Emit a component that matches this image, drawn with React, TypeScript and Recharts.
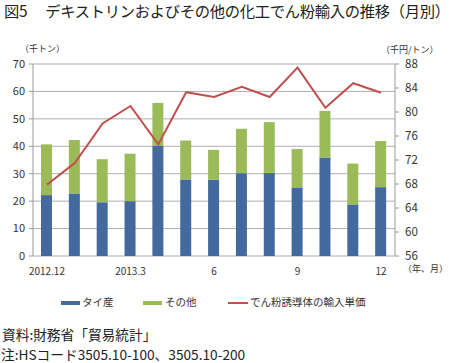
import React from "react";
import {
  ComposedChart,
  Bar,
  Line,
  XAxis,
  YAxis,
  CartesianGrid,
} from "recharts";

const months = [
  "2012.12", "2013.1", "2013.2", "2013.3", "2013.4", "2013.5", "2013.6",
  "2013.7", "2013.8", "2013.9", "2013.10", "2013.11", "2013.12",
];
const tickLabels: Record<string, string> = {
  "2012.12": "2012.12",
  "2013.3": "2013.3",
  "2013.6": "6",
  "2013.9": "9",
  "2013.12": "12",
};
// 千トン
const thai = [22.2, 22.8, 19.6, 20.0, 40.1, 27.9, 27.8, 30.2, 30.3, 24.8, 35.9, 18.8, 25.1];
const other = [18.5, 19.5, 15.7, 17.3, 15.7, 14.2, 10.9, 16.2, 18.5, 14.2, 17.0, 14.9, 16.8];
// 千円/トン
const unitPrice = [67.9, 71.5, 78.1, 81.0, 74.6, 83.3, 82.5, 84.2, 82.5, 87.4, 80.7, 84.8, 83.2];

const leftTicks = [0, 10, 20, 30, 40, 50, 60, 70];
const rightTicks = [56, 60, 64, 68, 72, 76, 80, 84, 88];
const boundaryTicks = months.map((_, i) => i).concat(months.length);

const COLORS = {
  thai: "#44699e",
  other: "#9bbb59",
  price: "#c0504d",
  grid: "#9a9a9a",
  text: "#333333",
};

const FONT = '"Noto Sans CJK JP", "Liberation Sans", sans-serif';

const data = months.map((m, i) => ({
  month: m,
  thai: thai[i],
  other: other[i],
  price: unitPrice[i],
}));

export default function App() {
  const tickStyle = { fontSize: 11, fill: COLORS.text, fontFamily: FONT };
  const note = { position: "absolute" as const, fontSize: 9, lineHeight: 1, color: COLORS.text, whiteSpace: "nowrap" as const };
  return (
    <div
      style={{
        position: "fixed",
        left: 0,
        top: 0,
        width: 450,
        height: 363,
        background: "#fff",
        fontFamily: FONT,
        color: "#222",
        overflow: "hidden",
      }}
    >
      <div style={{ position: "absolute", left: 4, top: 3, fontSize: 15.3, lineHeight: 1, whiteSpace: "nowrap", letterSpacing: -0.3 }}>
        図5　 デキストリンおよびその他の化工でん粉輸入の推移（月別）
      </div>
      <div style={{ ...note, left: 20, top: 44 }}>（千トン）</div>
      <div style={{ ...note, left: 381, top: 45 }}>（千円/トン）</div>
      <div style={{ ...note, left: 403, top: 264 }}>（年、月）</div>

      <div style={{ position: "absolute", left: 0, top: 0 }}>
        <ComposedChart
          width={450}
          height={280}
          data={data}
          barCategoryGap="30%"
          margin={{ top: 64, right: 15, bottom: 0, left: 0 }}
        >
          <CartesianGrid yAxisId="left" vertical={false} stroke={COLORS.grid} strokeWidth={0.8} />
          <XAxis
            xAxisId="ticks"
            type="number"
            domain={[0, months.length]}
            ticks={boundaryTicks}
            height={0}
            tick={false}
            tickSize={4}
            tickLine={{ stroke: COLORS.grid }}
            axisLine={{ stroke: COLORS.grid }}
            allowDataOverflow
          />
          <XAxis
            dataKey="month"
            height={24}
            interval={0}
            tickLine={false}
            axisLine={false}
            tick={{ ...tickStyle, fontSize: 10 }}
            tickMargin={6}
            tickFormatter={(v: string) => tickLabels[v] ?? ""}
          />
          <YAxis
            yAxisId="left"
            width={33}
            domain={[0, 70]}
            ticks={leftTicks}
            tick={tickStyle}
            tickSize={4}
            tickMargin={4}
            tickLine={{ stroke: COLORS.grid }}
            axisLine={{ stroke: COLORS.grid }}
          />
          <YAxis
            yAxisId="right"
            orientation="right"
            width={40}
            domain={[56, 88]}
            ticks={rightTicks}
            tick={{ ...tickStyle, fontSize: 11.5 }}
            tickSize={4}
            tickMargin={6}
            tickLine={{ stroke: COLORS.grid }}
            axisLine={{ stroke: COLORS.grid }}
          />
          <Bar yAxisId="left" dataKey="thai" stackId="a" fill={COLORS.thai} barSize={11} isAnimationActive={false} />
          <Bar yAxisId="left" dataKey="other" stackId="a" fill={COLORS.other} barSize={11} isAnimationActive={false} />
          <Line
            yAxisId="right"
            dataKey="price"
            stroke={COLORS.price}
            strokeWidth={2}
            dot={false}
            isAnimationActive={false}
          />
        </ComposedChart>
      </div>

      <div style={{ position: "absolute", top: 297, left: 0, fontSize: 10.5, lineHeight: 1, color: COLORS.text, whiteSpace: "nowrap" }}>
        <span style={{ position: "absolute", left: 61, top: 4, width: 19, height: 4, background: COLORS.thai }} />
        <span style={{ position: "absolute", left: 82, top: 0 }}>タイ産</span>
        <span style={{ position: "absolute", left: 143, top: 4, width: 19, height: 4, background: COLORS.other }} />
        <span style={{ position: "absolute", left: 165, top: 0 }}>その他</span>
        <span style={{ position: "absolute", left: 228, top: 5, width: 20, height: 2, background: COLORS.price }} />
        <span style={{ position: "absolute", left: 250, top: 0 }}>でん粉誘導体の輸入単価</span>
      </div>

      <div style={{ position: "absolute", left: 2, top: 328, fontSize: 13.7, lineHeight: 1, whiteSpace: "nowrap" }}>
        資料:財務省「貿易統計」
      </div>
      <div style={{ position: "absolute", left: 1, top: 348, fontSize: 13.7, lineHeight: 1, whiteSpace: "nowrap" }}>
        注:HSコード3505.10-100、3505.10-200
      </div>
    </div>
  );
}
